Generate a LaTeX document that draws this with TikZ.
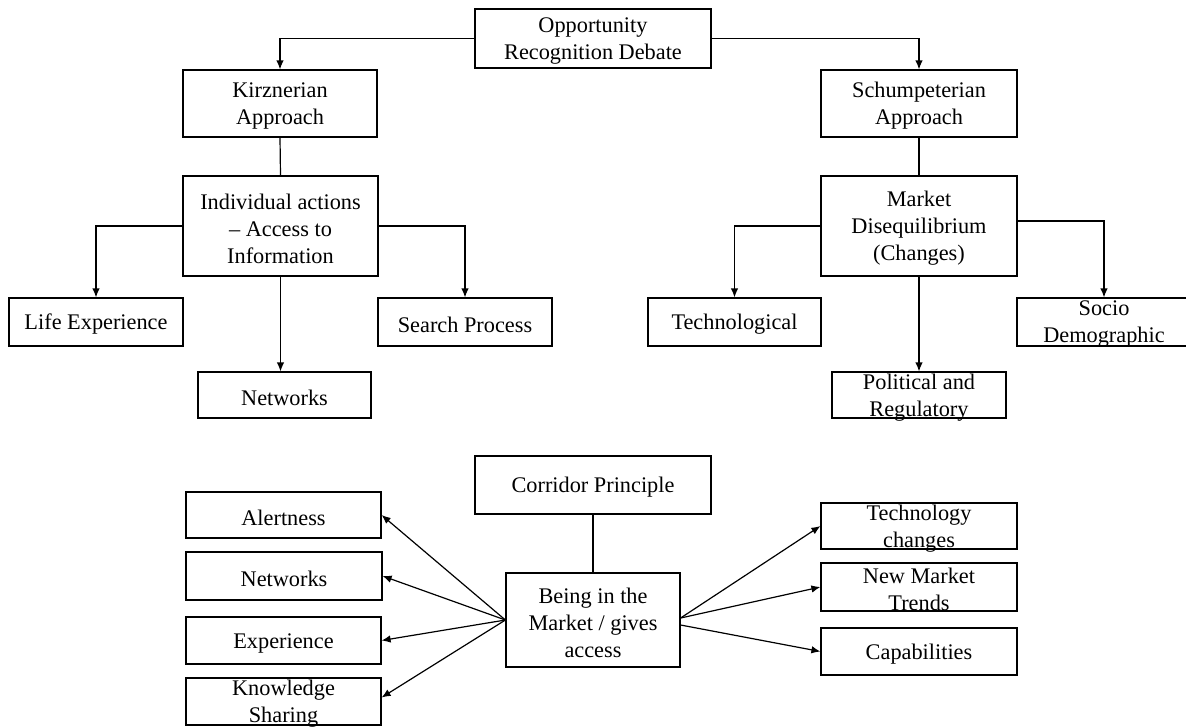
\documentclass[tikz,border=0pt]{standalone}
\usepackage{fontspec}
\setmainfont{Liberation Serif}
\usetikzlibrary{arrows.meta}
\tikzset{
  bx/.style 2 args={draw, line width=1.2pt, inner sep=0pt, minimum width=#1, minimum height=#2},
  txt/.style={align=center, inner sep=0pt, yshift=-2.5pt, font=\fontsize{22.3}{27}\selectfont},
  ln/.style={line width=1.2pt},
  arr/.style={line width=1.2pt, -{Latex[length=9pt,width=7.5pt]}}
}
\begin{document}
\begin{tikzpicture}[x=1pt,y=-1pt]
\useasboundingbox (0,0) rectangle (1186,726);
% top section
\node[bx={236pt}{59pt}, label={[txt]center:Opportunity\\Recognition Debate}] (opp) at (593,38.5) {};
\node[bx={194pt}{67pt}, label={[txt]center:Kirznerian\\Approach}] (kirz) at (280,103.5) {};
\node[bx={196pt}{67pt}, label={[txt]center:Schumpeterian\\Approach}] (schu) at (919,103.5) {};
\node[bx={195pt}{100pt}, label={[txt]center:Individual actions\\– Access to\\Information}] (ind) at (280.5,226) {};
\node[bx={196pt}{100pt}, label={[txt]center:Market\\Disequilibrium\\(Changes)}] (mkt) at (919,226) {};
\node[bx={174pt}{48pt}, label={[txt]center:Life Experience}] (life) at (96,322) {};
\node[bx={174pt}{48pt}, label={[txt]center:Search Process}] (search) at (465,322) {};
\node[bx={173pt}{46pt}, label={[txt]center:Networks}] (net1) at (284.5,395) {};
\node[bx={173pt}{48pt}, label={[txt]center:Technological}] (tech) at (734.5,322) {};
\node[bx={174pt}{48pt}, label={[txt]center:Socio\\Demographic}] (socio) at (1104,322) {};
\node[bx={174pt}{46pt}, label={[txt]center:Political and\\Regulatory}] (pol) at (919,395) {};
% bottom section
\node[bx={236pt}{58pt}, label={[txt]center:Corridor Principle}] (corr) at (593,485) {};
\node[bx={174pt}{94pt}, label={[txt]center:Being in the\\Market / gives\\access}] (being) at (593,620) {};
\node[bx={195pt}{46pt}, label={[txt]center:Alertness}] (alert) at (283.5,515) {};
\node[bx={196pt}{48pt}, label={[txt]center:Networks}] (net2) at (284,576) {};
\node[bx={195pt}{47pt}, label={[txt]center:Experience}] (exp) at (283.5,640.5) {};
\node[bx={195pt}{47pt}, label={[txt]center:Knowledge\\Sharing}] (know) at (283.5,701.5) {};
\node[bx={196pt}{46pt}, label={[txt]center:Technology\\changes}] (techc) at (919,526) {};
\node[bx={196pt}{48pt}, label={[txt]center:New Market\\Trends}] (nmt) at (919,587) {};
\node[bx={196pt}{47pt}, label={[txt]center:Capabilities}] (cap) at (919,651.5) {};
% connectors top
\draw[arr] (opp.west) -| (kirz.north);
\draw[arr] (opp.east) -| (schu.north);
\draw[ln] (kirz.south) -- (ind.north);
\draw[ln] (schu.south) -- (mkt.north);
\draw[arr] (ind.west) -| (life.north);
\draw[arr] (ind.east) -| (search.north);
\draw[arr] (ind.south) -- (ind.south |- net1.north);
\draw[arr] (mkt.west) -| (tech.north);
\draw[arr] ([yshift=5pt]mkt.east) -| (socio.north);
\draw[arr] (mkt.south) -- (pol.north);
% connectors bottom
\draw[ln] (corr.south) -- (being.north);
\draw[arr] (being.west) -- (alert.east);
\draw[arr] (being.west) -- (net2.east);
\draw[arr] (being.west) -- (exp.east);
\draw[arr] (being.west) -- ([yshift=4pt]know.east);
\draw[arr] ([yshift=2pt]being.east) -- (techc.west);
\draw[arr] ([yshift=2pt]being.east) -- (nmt.west);
\draw[arr] ([yshift=-5pt]being.east) -- (cap.west);
\end{tikzpicture}
\end{document}
